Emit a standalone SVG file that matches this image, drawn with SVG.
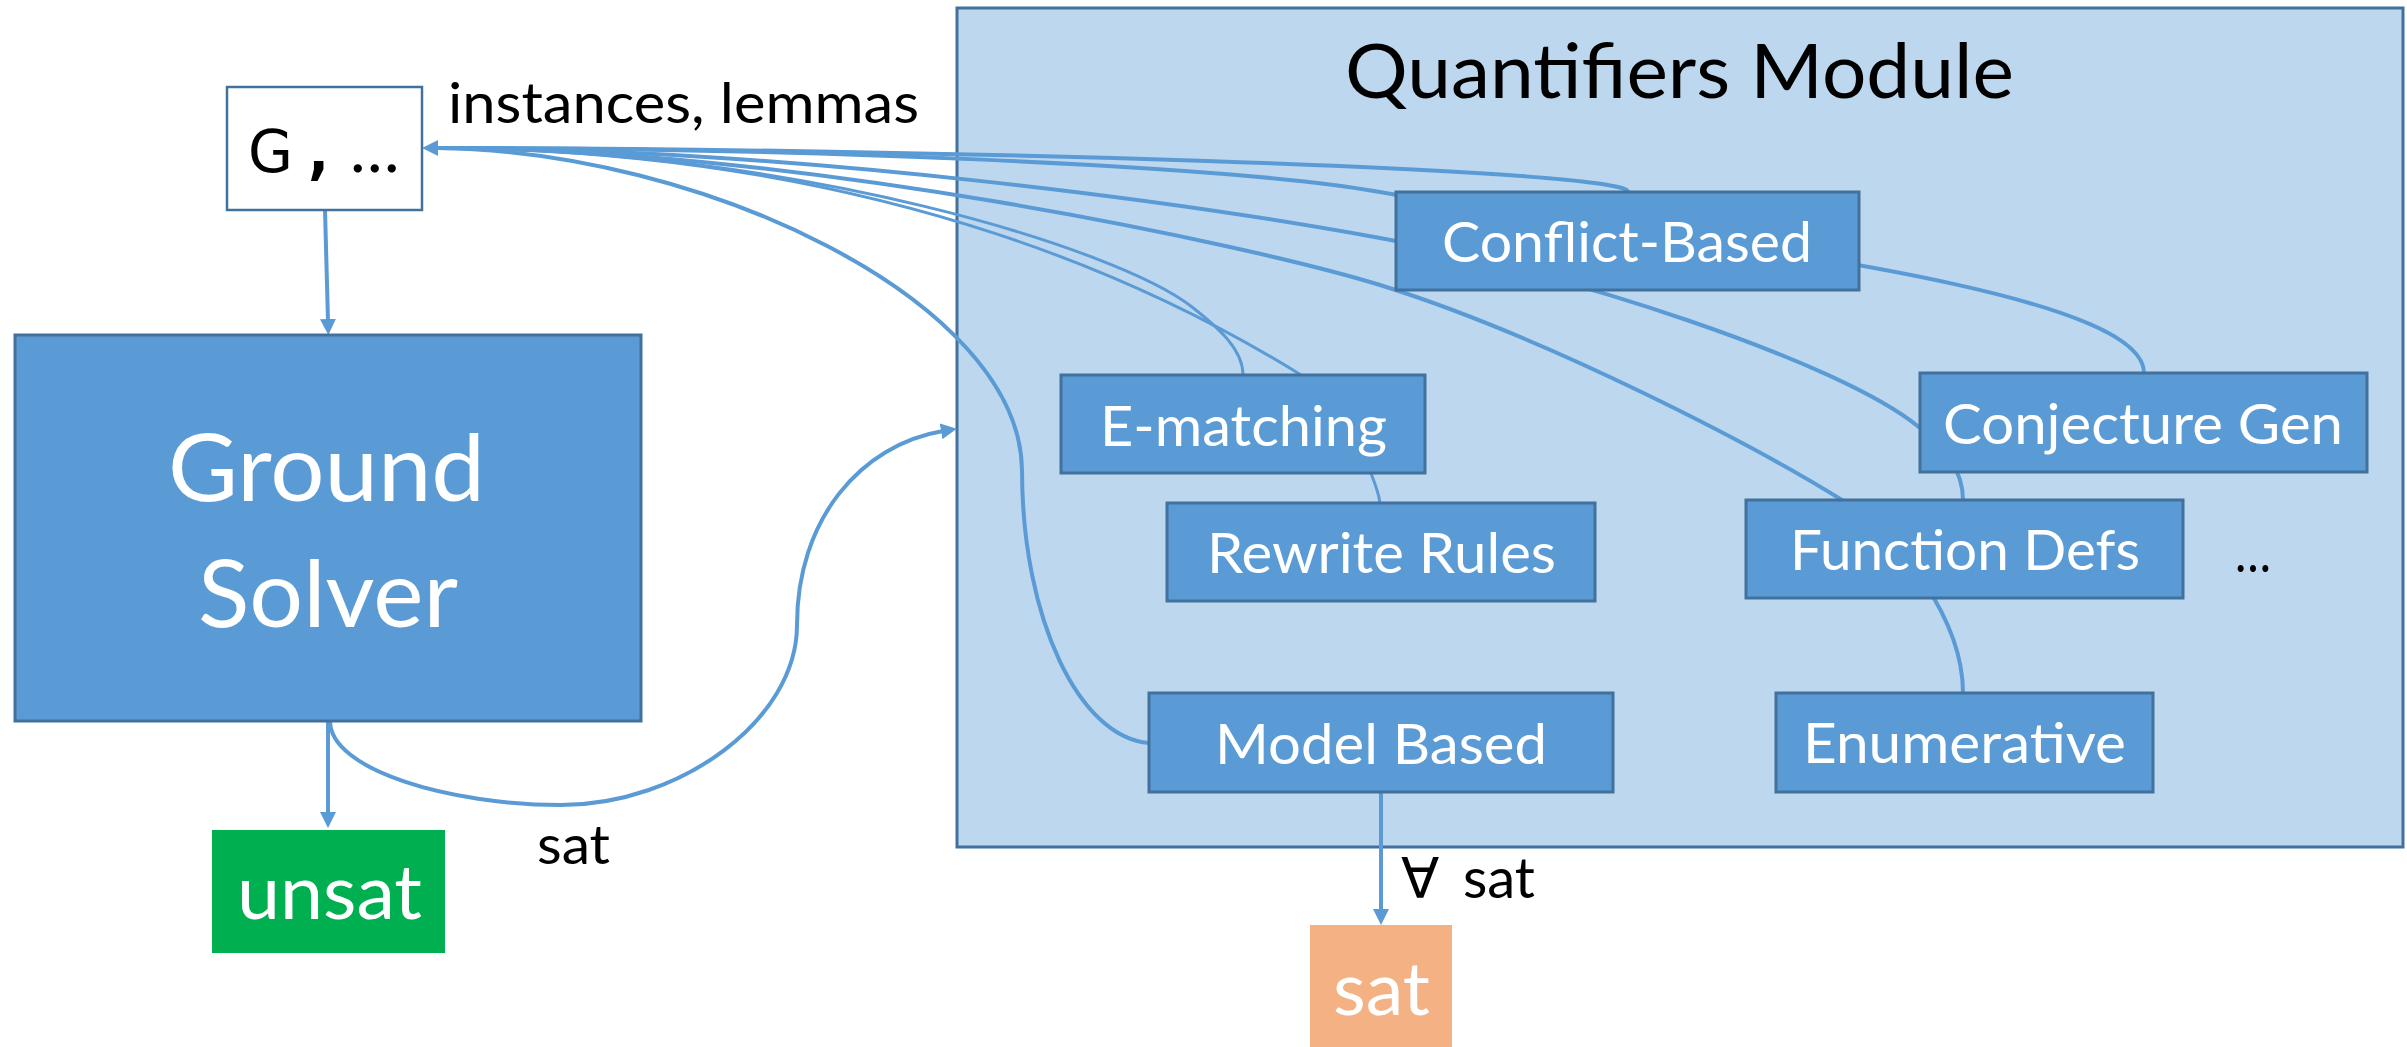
<svg xmlns="http://www.w3.org/2000/svg" width="2407" height="1047" viewBox="0 0 2407 1047">
  <defs>
    <marker id="arrow" markerUnits="userSpaceOnUse" markerWidth="16" markerHeight="16" viewBox="0 0 16 16" refX="2" refY="8" orient="auto">
      <path d="M0,0 L16,8 L0,16 z" fill="#5B9BD5"/>
    </marker>
    <style>
      .box { fill: #5B9BD5; stroke: #41719C; stroke-width: 3; }
      .module { fill: #BDD7EE; stroke: #41719C; stroke-width: 3; }
      .t { font-family: Lato, "Open Sans", "Liberation Sans", sans-serif; }
      .w { fill: #FFFFFF; }
      .k { fill: #000000; }
      .node { font-size: 57px; }
      .conn { fill: none; stroke: #5B9BD5; stroke-width: 4; }
      .thin { stroke-width: 3; }
    </style>
  </defs>

  <!-- container for the quantifier strategies -->
  <g id="quantifiers-module">
    <rect class="module" x="957" y="8" width="1446" height="839"/>
    <text class="t k" x="1345" y="98" font-size="76" textLength="669" lengthAdjust="spacingAndGlyphs">Quantifiers Module</text>
  </g>

  <!-- connectors -->
  <g id="connectors">
    <!-- everything feeding back into the ground set -->
    <path class="conn" d="M1628,192 C1630,168 900,148 436,148" marker-end="url(#arrow)"/>
    <path class="conn" d="M2144,373 C2144,280 1600,232 1380,192 C1230,165 800,148 436,148"/>
    <path class="conn" d="M1963,500 C1963,470 1945,449 1920,428 C1840,361 1560,271 1380,238 C1200,205 800,148 436,148"/>
    <path class="conn" d="M1963,693 C1963,620 1900,536 1842,500 C1760,449 1550,338 1380,285 C1250,245 800,148 436,148"/>
    <path class="conn thin" d="M1243,375 C1243,350 1220,329 1192,307 C1120,250 800,148 436,148"/>
    <path class="conn thin" d="M1380,503 C1376,475 1340,399 1301,375 C1180,300 900,150 436,148"/>
    <path class="conn" d="M1149,743 C1080,738 1022,620 1022,470 C1020,300 700,150 436,148"/>
    <!-- ground set to solver -->
    <path class="conn" d="M325,210 L328,321" marker-end="url(#arrow)"/>
    <!-- solver outcomes -->
    <path class="conn" d="M328,721 L328,814" marker-end="url(#arrow)"/>
    <path class="conn" d="M330,721 C330,770 450,805 561,805 C680,805 797,720 797,625 C797,520 860,445 943,431" marker-end="url(#arrow)"/>
    <!-- model based to sat -->
    <path class="conn" d="M1381,792 L1381,911" marker-end="url(#arrow)"/>
  </g>

  <!-- edge labels -->
  <g id="labels">
    <text class="t k" x="448" y="123" font-size="57" textLength="471" lengthAdjust="spacingAndGlyphs">instances, lemmas</text>
    <text class="t k" x="537" y="864" font-size="55" textLength="73" lengthAdjust="spacingAndGlyphs">sat</text>
    <text class="t k" y="898" font-size="57"><tspan x="1401" font-family="'DejaVu Sans', sans-serif" font-size="56">∀ </tspan><tspan x="1463" textLength="72" lengthAdjust="spacingAndGlyphs">sat</tspan></text>
    <text class="t k" x="2235" y="572" font-size="57" textLength="36" lengthAdjust="spacingAndGlyphs">…</text>
  </g>

  <g id="ground-set">
    <rect x="227" y="87" width="195" height="123" fill="#FFFFFF" stroke="#41719C" stroke-width="2.5"/>
    <text class="k" y="172" font-family="'DejaVu Sans Mono', 'Liberation Mono', monospace" font-size="62"><tspan x="248" font-family="'DejaVu Sans', sans-serif" font-weight="normal" font-size="58">G</tspan><tspan x="300" font-weight="bold">,</tspan><tspan x="350" font-family="Lato, sans-serif" font-size="66">…</tspan></text>
  </g>

  <g id="ground-solver">
    <rect class="box" x="15" y="335" width="626" height="386"/>
    <text class="t w" x="168" y="501" font-size="94" textLength="317" lengthAdjust="spacingAndGlyphs">Ground</text>
    <text class="t w" x="198" y="627" font-size="94" textLength="260" lengthAdjust="spacingAndGlyphs">Solver</text>
  </g>

  <g id="unsat">
    <rect x="212" y="830" width="233" height="123" fill="#00B050"/>
    <text class="t w" x="237" y="919" font-size="75" textLength="185" lengthAdjust="spacingAndGlyphs">unsat</text>
  </g>

  <g id="sat">
    <rect x="1310" y="925" width="142" height="122" fill="#F4B183"/>
    <text class="t w" x="1333" y="1015" font-size="74" textLength="97" lengthAdjust="spacingAndGlyphs">sat</text>
  </g>

  <g id="conflict-based">
    <rect class="box" x="1396" y="192" width="463" height="98"/>
    <text class="t w node" x="1442" y="262" textLength="370" lengthAdjust="spacingAndGlyphs">Conflict-Based</text>
  </g>

  <g id="e-matching">
    <rect class="box" x="1061" y="375" width="364" height="98"/>
    <text class="t w node" x="1100" y="446" textLength="287" lengthAdjust="spacingAndGlyphs">E-matching</text>
  </g>

  <g id="conjecture-gen">
    <rect class="box" x="1920" y="373" width="447" height="99"/>
    <text class="t w node" x="1943" y="444" textLength="400" lengthAdjust="spacingAndGlyphs">Conjecture Gen</text>
  </g>

  <g id="rewrite-rules">
    <rect class="box" x="1167" y="503" width="428" height="98"/>
    <text class="t w node" x="1207" y="573" textLength="349" lengthAdjust="spacingAndGlyphs">Rewrite Rules</text>
  </g>

  <g id="function-defs">
    <rect class="box" x="1746" y="500" width="437" height="98"/>
    <text class="t w node" x="1790" y="570" textLength="350" lengthAdjust="spacingAndGlyphs">Function Defs</text>
  </g>

  <g id="model-based">
    <rect class="box" x="1149" y="693" width="464" height="99"/>
    <text class="t w node" x="1215" y="764" textLength="332" lengthAdjust="spacingAndGlyphs">Model Based</text>
  </g>

  <g id="enumerative">
    <rect class="box" x="1776" y="693" width="377" height="99"/>
    <text class="t w node" x="1803" y="763" textLength="323" lengthAdjust="spacingAndGlyphs">Enumerative</text>
  </g>
</svg>
